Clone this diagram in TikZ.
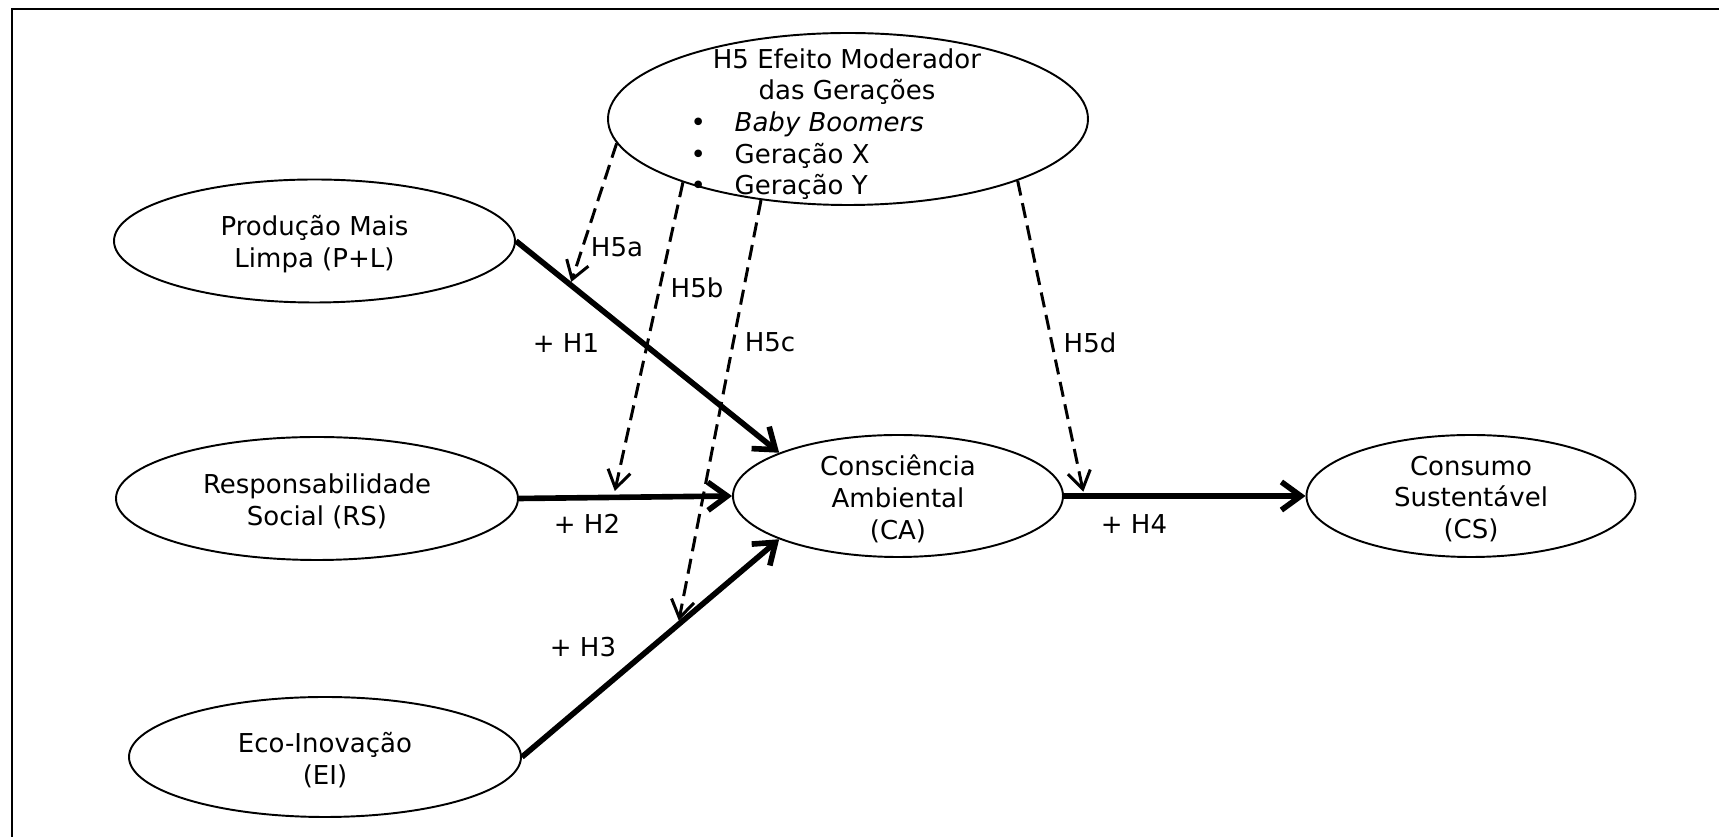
\documentclass[tikz,border=0pt]{standalone}
\usepackage{fontspec}
\setmainfont{DejaVu Sans}
\usetikzlibrary{shapes.geometric,arrows.meta}

\begin{document}
\begin{tikzpicture}[
	font=\fontsize{7.4}{9}\selectfont,
	oval/.style={draw, ellipse, line width=0.55pt, inner sep=0pt},
	txt/.style={align=center, inner sep=0pt, yshift=-0.8pt},
	hyp/.style={line width=1.6pt, -{Straight Barb[length=5.5pt,width=8pt]}},
	moder/.style={line width=0.85pt, dash pattern=on 4.3pt off 2.2pt, -{Straight Barb[length=5pt,width=6.5pt]}},
	lbl/.style={inner sep=0pt}
	]
	% Page size and frame (only top and left edges show)
	\useasboundingbox (0,0) rectangle (17.19,8.37);
	\draw[line width=0.6pt] (0.117,0) -- (0.117,8.28) -- (17.19,8.28);

	% Constructs
	\node[oval, minimum width=4.8cm, minimum height=1.72cm] (gen) at (8.48,7.18) {};
	\node[oval, minimum width=4.01cm, minimum height=1.23cm] (pl) at (3.145,5.96) {};
	\node[oval, minimum width=4.02cm, minimum height=1.23cm] (rs) at (3.17,3.385) {};
	\node[oval, minimum width=3.92cm, minimum height=1.2cm] (ei) at (3.25,0.80) {};
	\node[oval, minimum width=3.30cm, minimum height=1.22cm] (ca) at (8.98,3.41) {};
	\node[oval, minimum width=3.29cm, minimum height=1.22cm] (cs) at (14.71,3.41) {};

	% Texts inside the ellipses
	\node[txt] (gent) at (8.47,7.63) {H5 Efeito Moderador\\das Gerações};
	\node[txt, align=left, anchor=west] (genl) at (6.90,6.84)
		{\makebox[0.44cm][l]{\textbullet}\textit{Baby Boomers}\\
		 \makebox[0.44cm][l]{\textbullet}Geração X\\
		 \makebox[0.44cm][l]{\textbullet}Geração Y};
	\node[txt] (plt) at (pl) {Produção Mais\\Limpa (P+L)};
	\node[txt] (rst) at (rs) {Responsabilidade\\Social (RS)};
	\node[txt] (eit) at (ei) {Eco-Inovação\\(EI)};
	\node[txt] (cat) at (ca) {Consciência\\Ambiental\\(CA)};
	\node[txt] (cst) at (cs) {Consumo\\Sustentável\\(CS)};

	% Direct effects H1 - H4
	\draw[hyp] (pl.east) -- coordinate[pos=0.21] (m1) (ca.160);
	\draw[hyp] (rs.east) -- coordinate[pos=0.45] (m2) (ca.west);
	\draw[hyp] (ei.east) -- coordinate[pos=0.61] (m3) (ca.200);
	\draw[hyp] (ca.east) -- coordinate[pos=0.08] (m4) (cs.west);

	% Moderating effects H5a - H5d
	\draw[moder] (gen.186) -- ([yshift=1pt]m1);
	\draw[moder] (gen.201) -- ([yshift=1.8pt]m2);
	\draw[moder] (gen.223) -- ([yshift=1pt]m3);
	\draw[moder] (gen.340) -- ([yshift=1.2pt]m4);

	% Labels
	\node[lbl] (l1) at (5.66,4.94) {+ H1};
	\node[lbl] (l2) at (5.87,3.13) {+ H2};
	\node[lbl] (l3) at (5.83,1.90) {+ H3};
	\node[lbl] (l4) at (11.34,3.13) {+ H4};
	\node[lbl] (l5a) at (6.17,5.90) {H5a};
	\node[lbl] (l5b) at (6.97,5.49) {H5b};
	\node[lbl] (l5c) at (7.70,4.95) {H5c};
	\node[lbl] (l5d) at (10.90,4.94) {H5d};
\end{tikzpicture}
\end{document}
